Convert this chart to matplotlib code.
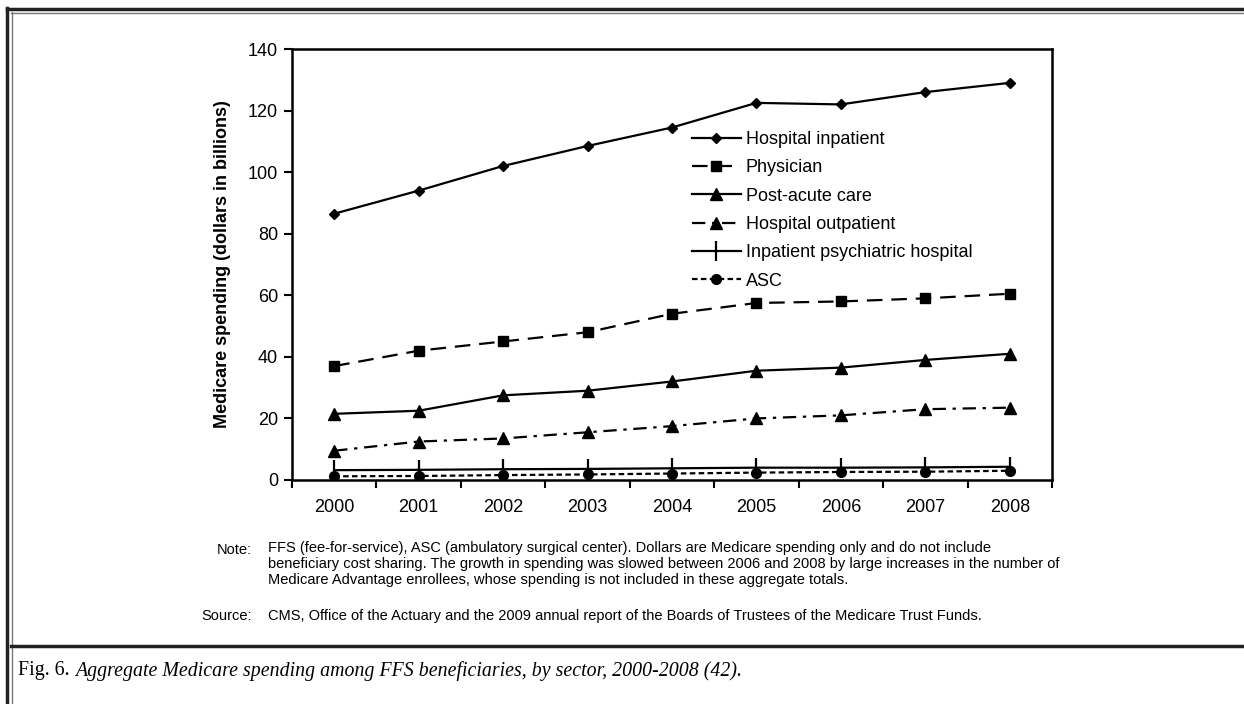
import matplotlib
matplotlib.use("Agg")
import matplotlib.pyplot as plt
from matplotlib.lines import Line2D

years = ["2000", "2001", "2002", "2003", "2004", "2005", "2006", "2007", "2008"]
hospital_inpatient = [86.5, 94, 102, 108.5, 114.5, 122.5, 122, 126, 129]
physician = [37, 42, 45, 48, 54, 57.5, 58, 59, 60.5]
post_acute = [21.5, 22.5, 27.5, 29, 32, 35.5, 36.5, 39, 41]
hospital_outpatient = [9.5, 12.5, 13.5, 15.5, 17.5, 20, 21, 23, 23.5]
psychiatric = [3.2, 3.3, 3.5, 3.6, 3.8, 4.0, 4.0, 4.1, 4.3]
asc = [1.2, 1.3, 1.6, 1.8, 2.1, 2.4, 2.6, 2.7, 3.0]
y_ticks = [0, 20, 40, 60, 80, 100, 120, 140]

plt.rcParams['font.family'] = ['Liberation Sans', 'DejaVu Sans']

fig = plt.figure(figsize=(12.44, 7.04), dpi=100)
W, H = 1244, 704
ax = fig.add_axes([292 / W, 1 - 480 / H, (1052 - 292) / W, (480 - 49) / H])

x = list(range(len(years)))
ax.plot(x, hospital_inpatient, color='black', lw=1.6, marker='D', ms=5, label='Hospital inpatient')
ax.plot(x, physician, color='black', lw=1.6, ls=(0, (7, 4)), marker='s', ms=7, label='Physician')
ax.plot(x, post_acute, color='black', lw=1.6, marker='^', ms=8, label='Post-acute care')
ax.plot(x, hospital_outpatient, color='black', lw=1.6, ls=(0, (6, 3, 1.5, 3)), marker='^', ms=8,
        label='Hospital outpatient')
ax.plot(x, psychiatric, color='black', lw=1.6, marker='|', ms=14, mew=1.6,
        label='Inpatient psychiatric hospital')
ax.plot(x, asc, color='black', lw=1.6, ls=(0, (2.5, 1.5)), marker='o', ms=7, label='ASC')

ax.set_xlim(-0.5, len(years) - 0.5)
ax.set_ylim(0, 140)
ax.set_yticks(y_ticks)
ax.set_xticks(x)
ax.set_xticklabels(years)
ax.set_xticks([i + 0.5 for i in range(-1, len(years))], minor=True)
ax.tick_params(axis='x', which='major', length=0, pad=14, labelsize=13)
ax.tick_params(axis='x', which='minor', length=6, width=1.5, direction='out')
ax.tick_params(axis='y', length=6, width=1.5, direction='out', labelsize=13, pad=4)
for s in ax.spines.values():
    s.set_linewidth(1.8)
ax.set_ylabel('Medicare spending (dollars in billions)', fontsize=13, fontweight='bold', labelpad=12)

leg = ax.legend(loc='upper left', bbox_to_anchor=(0.526, 0.81), frameon=False, fontsize=13,
                handlelength=2.7, handletextpad=0.3, labelspacing=0.63, borderpad=0, borderaxespad=0)

# Notes
note_fs = 10.5
fig.text(252 / W, 1 - 550 / H, "Note:", fontsize=note_fs, ha='right', va='center')
fig.text(268 / W, 1 - 564 / H,
         "FFS (fee-for-service), ASC (ambulatory surgical center). Dollars are Medicare spending only and do not include\n"
         "beneficiary cost sharing. The growth in spending was slowed between 2006 and 2008 by large increases in the number of\n"
         "Medicare Advantage enrollees, whose spending is not included in these aggregate totals.",
         fontsize=note_fs, ha='left', va='center', linespacing=1.19)
fig.text(252 / W, 1 - 616 / H, "Source:", fontsize=note_fs, ha='right', va='center')
fig.text(268 / W, 1 - 616 / H,
         "CMS, Office of the Actuary and the 2009 annual report of the Boards of Trustees of the Medicare Trust Funds.",
         fontsize=note_fs, ha='left', va='center')

# Caption
cap_fs = 14.3
t1 = fig.text(18 / W, 1 - 671 / H, "Fig. 6.", fontsize=cap_fs, family='Liberation Serif',
              ha='left', va='center')
renderer = fig.canvas.get_renderer()
bb = t1.get_window_extent(renderer)
fig.text(bb.x1 / W + 6 / W, 1 - 671 / H,
         "Aggregate Medicare spending among FFS beneficiaries, by sector, 2000-2008 (42).",
         fontsize=cap_fs, family='Liberation Serif', style='italic', ha='left', va='center')

# Borders
def hline(y, x0, x1, lw, c):
    fig.add_artist(Line2D([x0 / W, x1 / W], [1 - y / H, 1 - y / H], lw=lw, color=c,
                          transform=fig.transFigure))

def vline(xp, y0, y1, lw, c):
    fig.add_artist(Line2D([xp / W, xp / W], [1 - y0 / H, 1 - y1 / H], lw=lw, color=c,
                          transform=fig.transFigure))

hline(9, 7, W, 2.5, '#222222')
hline(12.5, 11, W, 1.0, '#777777')
vline(7.5, 8, H, 2.5, '#222222')
vline(11.5, 12, H, 1.0, '#777777')
hline(646, 11, W, 2.5, '#222222')

fig.savefig('out.png', dpi=100)
